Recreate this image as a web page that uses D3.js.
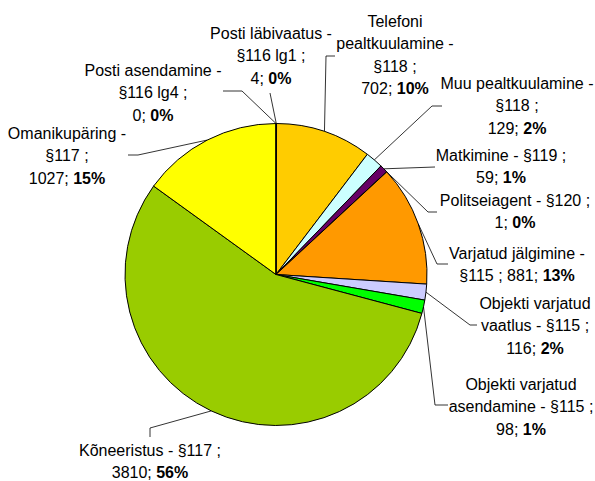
<!DOCTYPE html>
<html>
<head>
<meta charset="utf-8">
<script src="https://cdn.jsdelivr.net/npm/d3@7"></script>
<style>
  html, body { margin: 0; padding: 0; background: #fff; }
  #app { width: 595px; height: 481px; }
</style>
</head>
<body>
<div id="app"></div>
<script>
// andmed
const categories = [
  "Posti läbivaatus", "Telefoni pealtkuulamine", "Muu pealtkuulamine", "Matkimine",
  "Politseiagent", "Varjatud jälgimine", "Objekti varjatud vaatlus",
  "Objekti varjatud asendamine", "Kõneeristus", "Omanikupäring", "Posti asendamine"
];
const values = [4, 702, 129, 59, 1, 881, 116, 98, 3810, 1027, 0];
const colors = ["#9999FF", "#FFCC00", "#CCFFFF", "#660066", "#FF8080", "#FF9900",
  "#CCCCFF", "#00FF00", "#99CC00", "#FFFF00", "#FFFFCC"];
// sildi read (viimasele reale lisatakse "väärtus; protsent")
const labelLines = [
  ["Posti läbivaatus -", "§116 lg1 ;", ""],
  ["Telefoni", "pealtkuulamine -", "§118 ;", ""],
  ["Muu pealtkuulamine -", "§118 ;", ""],
  ["Matkimine - §119 ;", ""],
  ["Politseiagent - §120 ;", ""],
  ["Varjatud jälgimine -", "§115 ; "],
  ["Objekti varjatud", "vaatlus - §115 ;", ""],
  ["Objekti varjatud", "asendamine - §115 ;", ""],
  ["Kõneeristus - §117 ;", ""],
  ["Omanikupäring -", "§117 ;", ""],
  ["Posti asendamine -", "§116 lg4 ;", ""]
];

// sildi asukohad: keskpunkt x, esimese rea y, juhtjoone algus ja murdepunkt
const labelLayout = [
  { x: 271, y: 33,  start: [270, 93] },
  { x: 395, y: 21,  start: [335, 56], elbow: [326, 56] },
  { x: 517, y: 83,  start: [442, 106], elbow: [432, 106] },
  { x: 501, y: 155, start: [435, 167] },
  { x: 515, y: 200, start: [437, 212], elbow: [428, 212] },
  { x: 517, y: 253, start: [448, 264], elbow: [437, 264] },
  { x: 535, y: 303, start: [477, 325], elbow: [470, 325] },
  { x: 521, y: 384, start: [448, 405], elbow: [435, 405] },
  { x: 150, y: 450, start: [150, 437], elbow: [150, 428] },
  { x: 67,  y: 133, start: [128, 155], elbow: [138, 155] },
  { x: 153, y: 70,  start: [223, 91], elbow: [242, 91] }
];

const width = 595, height = 481;
const cx = 276, cy = 274.5, r = 151;
const lineH = 22.5;

const total = d3.sum(values);
const data = categories.map((c, i) => ({ name: c, value: values[i], i }));

const pie = d3.pie().sort(null).value(d => d.value);
const arcs = pie(data);
const arc = d3.arc().innerRadius(0).outerRadius(r);
const edgeArc = d3.arc().innerRadius(r).outerRadius(r);

const svg = d3.select("#app").append("svg")
  .attr("width", width)
  .attr("height", height)
  .style("font-family", "'Liberation Sans', Arial, sans-serif");

// sektorid
const g = svg.append("g").attr("transform", `translate(${cx},${cy})`);
g.selectAll("path.slice")
  .data(arcs)
  .enter().append("path")
  .attr("class", "slice")
  .attr("d", arc)
  .attr("fill", (d, i) => colors[i])
  .attr("stroke", "#000")
  .attr("stroke-width", 1)
  .attr("stroke-linejoin", "round");

// juhtjooned
arcs.forEach((a, i) => {
  const lay = labelLayout[i];
  const c = edgeArc.centroid(a);
  const pts = [lay.start];
  if (lay.elbow) pts.push(lay.elbow);
  pts.push([c[0] + cx, c[1] + cy]);
  svg.append("path")
    .attr("d", d3.line()(pts))
    .attr("fill", "none")
    .attr("stroke", "#000")
    .attr("stroke-width", 0.8);
});

// sildid
arcs.forEach((a, i) => {
  const lay = labelLayout[i];
  const lines = labelLines[i];
  const pct = Math.round(values[i] / total * 100) + "%";
  const t = svg.append("text")
    .attr("text-anchor", "middle")
    .style("font-size", "16px")
    .style("fill", "#000");
  lines.forEach((ln, k) => {
    const ts = t.append("tspan")
      .attr("x", lay.x)
      .attr("y", lay.y + k * lineH)
      .attr("dy", "0.35em");
    if (k === lines.length - 1) {
      ts.append("tspan").text(ln + values[i] + "; ");
      ts.append("tspan").attr("font-weight", "bold").text(pct);
    } else {
      ts.text(ln);
    }
  });
});
</script>
</body>
</html>
